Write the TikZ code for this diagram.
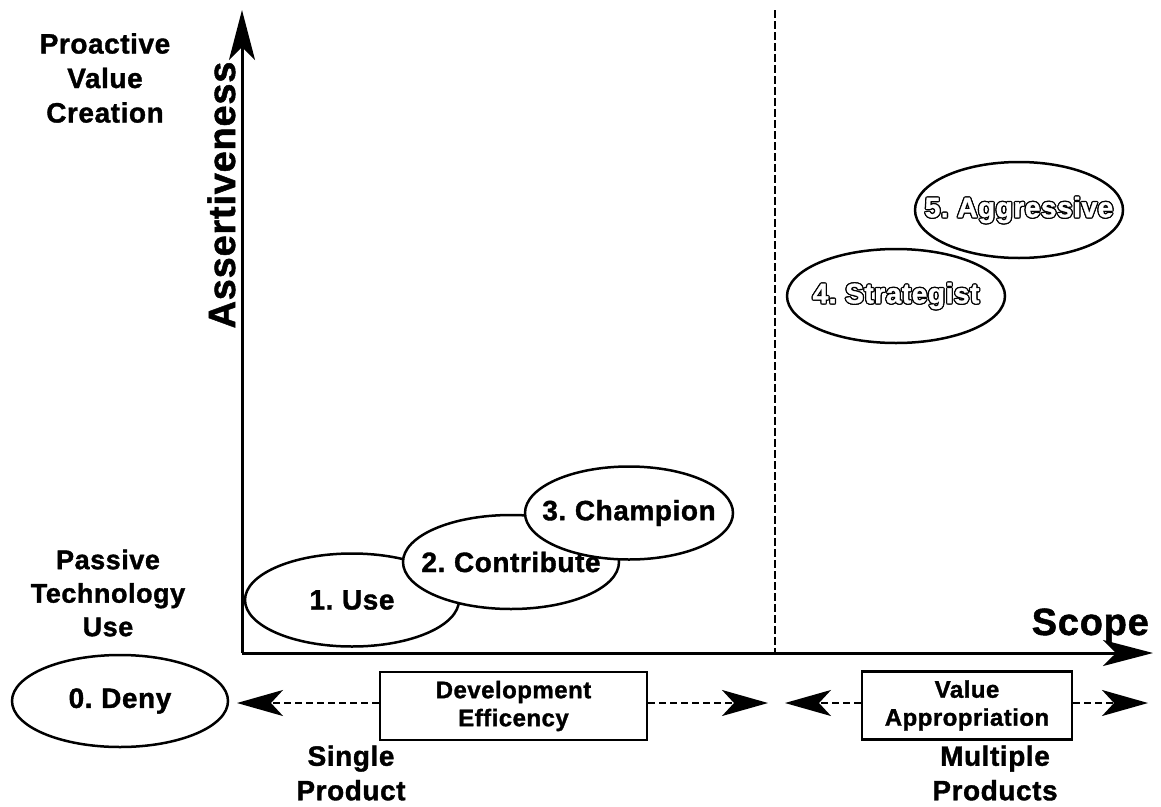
\documentclass[tikz,border=0pt]{standalone}
\usepackage{fontspec}
\setmainfont{Liberation Sans}[WordSpace=0.7,LetterSpace=2,BoldFeatures={FakeBold=1.3}]
\usetikzlibrary{arrows.meta,shapes.geometric}
\newcommand\olcopy[3]{\rlap{\hspace*{#1}\raisebox{#2}{\color{black}#3}}}
\newcommand\outltext[1]{%
  \olcopy{-1.3pt}{0pt}{#1}\olcopy{1.3pt}{0pt}{#1}%
  \olcopy{0pt}{1.3pt}{#1}\olcopy{0pt}{-1.3pt}{#1}%
  \olcopy{-.95pt}{.95pt}{#1}\olcopy{.95pt}{.95pt}{#1}%
  \olcopy{-.95pt}{-.95pt}{#1}\olcopy{.95pt}{-.95pt}{#1}%
  {\color{white}#1}}
\begin{document}
\begin{tikzpicture}[x=1pt,y=-1pt,
  lab/.style={font=\bfseries\fontsize{28}{34.5}\selectfont, align=center, inner sep=0},
  big/.style={font=\bfseries\fontsize{38}{40}\selectfont, inner sep=0},
  ell/.style={ellipse, draw, line width=2.5pt, fill=white, minimum width=214pt,
              minimum height=93pt, inner xsep=-40pt, inner ysep=0pt,
              font=\bfseries\fontsize{28}{32}\selectfont},
  boxstyle/.style={draw, line width=2.5pt, fill=white, align=center, inner sep=0,
              minimum height=68pt, font=\bfseries\fontsize{24}{28}\selectfont},
  axis/.style={line width=3pt, -{Stealth[length=50pt,width=26pt,inset=13pt]}},
  darrow/.style={line width=2pt, dash pattern=on 7pt off 4pt,
              -{Stealth[length=46pt,width=26pt,inset=12pt]}},
  divider/.style={line width=1.5pt, dash pattern=on 8pt off 3pt}]
\useasboundingbox (0,0) rectangle (1161,806);

% axes
\coordinate (O) at (242,653);
\coordinate (ytop) at (242,10);
\coordinate (xend) at (1153,653);
\coordinate (dtop) at (775,10);
\coordinate (dbot) at (775,653);
\draw[divider] (dtop) -- (dbot);
\draw[axis] (O) -- (ytop);
\draw[axis] (O) -- (xend);

% axis labels
\node[big, rotate=90, anchor=base] (assert) at (235,195) {Assertiveness};
\node[big, anchor=base east] (scope) at (1149,635) {Scope};
\node[lab] (proactive) at (105,78) {Proactive\\Value\\Creation};
\node[lab, font=\bfseries\fontsize{27}{33.5}\selectfont] (passive) at (108,593) {Passive\\Technology\\Use};

% ellipses
\node[ell] (use) at (352,600) {1. Use};
\node[ell, minimum width=216pt, minimum height=94pt] (contribute) at (511,562) {2. Contribute};
\node[ell, minimum width=208pt] (champion) at (629,513) {3. Champion};
\node[ell, minimum width=218pt, minimum height=94pt] (strategist) at (896,296) {\outltext{4. Strategist}};
\node[ell, minimum width=208pt, minimum height=96pt] (aggressive) at (1019,210) {\outltext{5. Aggressive}};
\node[ell, minimum width=216pt, minimum height=92pt] (deny) at (120,701) {0. Deny};

% boxes
\node[boxstyle, minimum width=267pt] (dev) at (513.5,706) {Development\\Efficency};
\node[boxstyle, minimum width=210pt] (val) at (967,705.5) {Value\\Appropriation};

% dashed arrows
\coordinate (devL) at (237,703);
\coordinate (devR) at (768,703);
\coordinate (valL) at (785,703);
\coordinate (valR) at (1148,703);
\draw[darrow] (dev.west |- devL) -- (devL);
\draw[darrow] (dev.east |- devR) -- (devR);
\draw[darrow] (val.west |- valL) -- (valL);
\draw[darrow] (val.east |- valR) -- (valR);

% bottom labels
\node[lab] (single) at (351,773) {Single\\Product};
\node[lab] (multiple) at (995,773) {Multiple\\Products};
\end{tikzpicture}
\end{document}
